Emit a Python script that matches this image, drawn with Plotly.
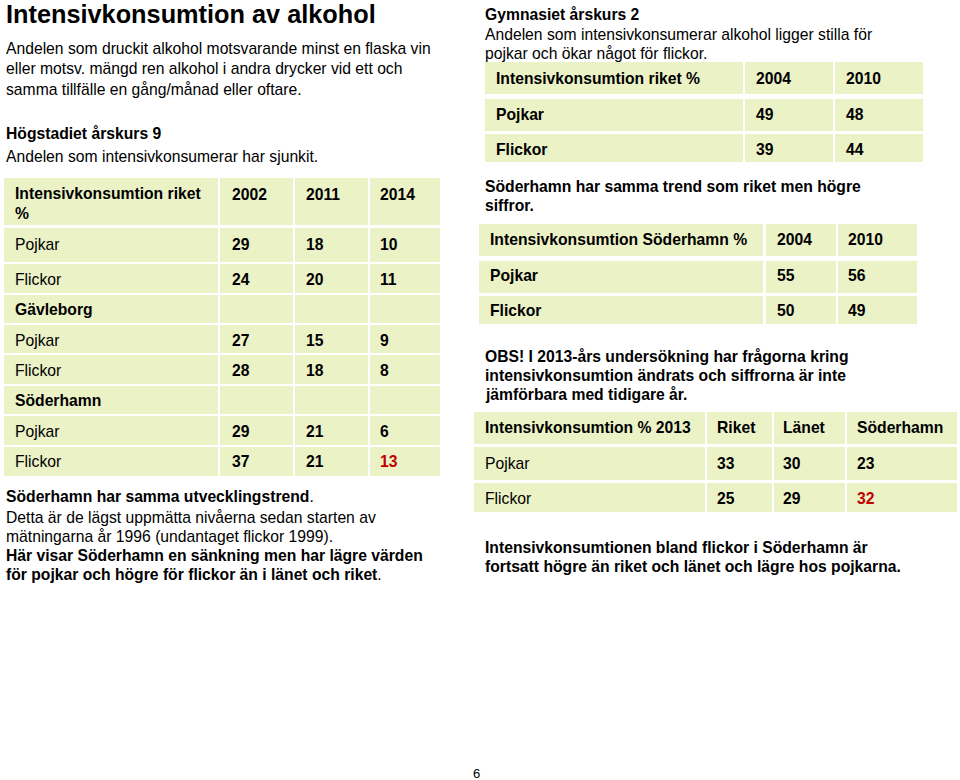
import plotly.graph_objects as go

# ---------------- data ----------------
hs_years = ["2002", "2011", "2014"]
riket_pojkar = [29, 18, 10]
riket_flickor = [24, 20, 11]
gavle_pojkar = [27, 15, 9]
gavle_flickor = [28, 18, 8]
soder_pojkar = [29, 21, 6]
soder_flickor = [37, 21, 13]

gy_years = ["2004", "2010"]
gy_riket_pojkar = [49, 48]
gy_riket_flickor = [39, 44]
gy_soder_pojkar = [55, 56]
gy_soder_flickor = [50, 49]

regions_2013 = ["Riket", "Länet", "Söderhamn"]
pojkar_2013 = [33, 30, 23]
flickor_2013 = [25, 29, 32]

# ---------------- style ----------------
FONT = "Liberation Sans, Arial, sans-serif"
CELL = "#EBF2C6"
RED = "#C00000"
BLACK = "#000000"
FS = 15.7

fig = go.Figure()
shapes = []
annots = []


def txt(x, y, s, size=FS, bold=False, color=BLACK, anchor="left"):
    annots.append(dict(
        x=x, y=y, xref="x", yref="y", text=("<b>%s</b>" % s) if bold else s,
        showarrow=False, xanchor=anchor, yanchor="middle",
        font=dict(family=FONT, size=size, color=color),
    ))


def cell(x0, x1, y0, y1):
    shapes.append(dict(type="rect", xref="x", yref="y", x0=x0, x1=x1, y0=y0, y1=y1,
                       fillcolor=CELL, line=dict(width=0), layer="below"))


def table(col_edges, row_edges, rows, text_x, text_y):
    for r, (y0, y1) in enumerate(row_edges):
        for c, (x0, x1) in enumerate(col_edges):
            cell(x0, x1, y0, y1)
    for r, row in enumerate(rows):
        for c, item in enumerate(row):
            if item is None:
                continue
            s, b, col = item
            txt(text_x[c], text_y[r], s, bold=b, color=col)


# ---------------- left column text ----------------
txt(4, 14, "Intensivkonsumtion av alkohol", size=25.3, bold=True)
para = ["Andelen som druckit alkohol motsvarande minst en flaska vin",
        "eller motsv. mängd ren alkohol i andra drycker vid ett och",
        "samma tillfälle en gång/månad eller oftare."]
for i, line in enumerate(para):
    txt(4, 48 + i * 20.5, line)
txt(4, 133, "Högstadiet årskurs 9", bold=True)
txt(4, 156, "Andelen som intensivkonsumerar har sjunkit.")

# ---------------- left table ----------------
lt_cols = [(4, 218), (220, 293), (295, 368), (370, 440)]
lt_rows = [(178, 225), (228, 262), (264, 293), (295, 323), (325, 353),
           (355, 384), (386, 414), (416, 445), (447, 476)]
lt_tx = [13, 230, 304, 378]
lt_ty = [194, 244, 279, 309, 340, 370, 400, 431, 461]


def num_row(label, vals, red_idx=None):
    row = [(label, False, BLACK)]
    for i, v in enumerate(vals):
        row.append((str(v), True, RED if i == red_idx else BLACK))
    return row


lt_data = [
    [None] + [(y, True, BLACK) for y in hs_years],
    num_row("Pojkar", riket_pojkar),
    num_row("Flickor", riket_flickor),
    [("Gävleborg", True, BLACK), None, None, None],
    num_row("Pojkar", gavle_pojkar),
    num_row("Flickor", gavle_flickor),
    [("Söderhamn", True, BLACK), None, None, None],
    num_row("Pojkar", soder_pojkar),
    num_row("Flickor", soder_flickor, red_idx=2),
]
table(lt_cols, lt_rows, lt_data, lt_tx, lt_ty)
annots.append(dict(x=lt_tx[0], y=183, xref="x", yref="y",
                   text="<b>Intensivkonsumtion riket<br>%</b>", showarrow=False,
                   xanchor="left", yanchor="top", align="left",
                   font=dict(family=FONT, size=FS, color=BLACK)))

# text under left table
txt(4, 496, "<b>Söderhamn har samma utvecklingstrend</b>.")
txt(4, 517, "Detta är de lägst uppmätta nivåerna sedan starten av")
txt(4, 536, "mätningarna år 1996 (undantaget flickor 1999).")
txt(4, 555, "<b>Här visar Söderhamn en sänkning men har lägre värden</b>")
txt(4, 574, "<b>för pojkar och högre för flickor än i länet och riket</b>.")

# ---------------- right column ----------------
txt(483, 14, "Gymnasiet årskurs 2", bold=True)
txt(483, 34, "Andelen som intensivkonsumerar alkohol ligger stilla för")
txt(483, 53, "pojkar och ökar något för flickor.")

rt1_cols = [(485, 743), (745, 833), (835, 923)]
rt1_rows = [(62, 94), (99, 131), (134, 162)]
rt1_data = [
    [("Intensivkonsumtion riket %", True, BLACK)] + [(y, True, BLACK) for y in gy_years],
    [("Pojkar", True, BLACK)] + [(str(v), True, BLACK) for v in gy_riket_pojkar],
    [("Flickor", True, BLACK)] + [(str(v), True, BLACK) for v in gy_riket_flickor],
]
table(rt1_cols, rt1_rows, rt1_data, [494, 754, 844], [78, 114, 149])

txt(483, 186, "Söderhamn har samma trend som riket men högre", bold=True)
txt(483, 205, "siffror.", bold=True)

rt2_cols = [(479, 763), (766, 836), (838, 917)]
rt2_rows = [(224, 256), (261, 293), (296, 324)]
rt2_data = [
    [("Intensivkonsumtion Söderhamn %", True, BLACK)] + [(y, True, BLACK) for y in gy_years],
    [("Pojkar", True, BLACK)] + [(str(v), True, BLACK) for v in gy_soder_pojkar],
    [("Flickor", True, BLACK)] + [(str(v), True, BLACK) for v in gy_soder_flickor],
]
table(rt2_cols, rt2_rows, rt2_data, [488, 775, 846], [239, 275, 310])

txt(483, 356, "OBS! I 2013-års undersökning har frågorna kring", bold=True)
txt(483, 375, "intensivkonsumtion ändrats och siffrorna är inte", bold=True)
txt(483, 394, "jämförbara med tidigare år.", bold=True)

rt3_cols = [(474, 705), (707, 772), (774, 845), (847, 957)]
rt3_rows = [(412, 444), (447, 480), (483, 512)]
rt3_data = [
    [("Intensivkonsumtion % 2013", True, BLACK)] + [(r, True, BLACK) for r in regions_2013],
    [("Pojkar", False, BLACK)] + [(str(v), True, BLACK) for v in pojkar_2013],
    [("Flickor", False, BLACK)] + [(str(v), True, RED if i == 2 else BLACK)
                                   for i, v in enumerate(flickor_2013)],
]
table(rt3_cols, rt3_rows, rt3_data, [483, 715, 781, 855], [427, 463, 498])

txt(483, 547, "Intensivkonsumtionen bland flickor i Söderhamn är", bold=True)
txt(483, 566, "fortsatt högre än riket och länet och lägre hos pojkarna.", bold=True)

txt(476, 773, "6", size=13, anchor="center")

fig.update_layout(
    width=960, height=780,
    margin=dict(l=0, r=0, t=0, b=0),
    paper_bgcolor="white", plot_bgcolor="white",
    xaxis=dict(range=[0, 960], visible=False, fixedrange=True),
    yaxis=dict(range=[780, 0], visible=False, fixedrange=True),
    shapes=shapes, annotations=annots, showlegend=False,
)
fig.write_html("out.html", config={"displayModeBar": False},
               post_script="document.body.style.margin='0px';document.body.style.overflow='hidden';")
